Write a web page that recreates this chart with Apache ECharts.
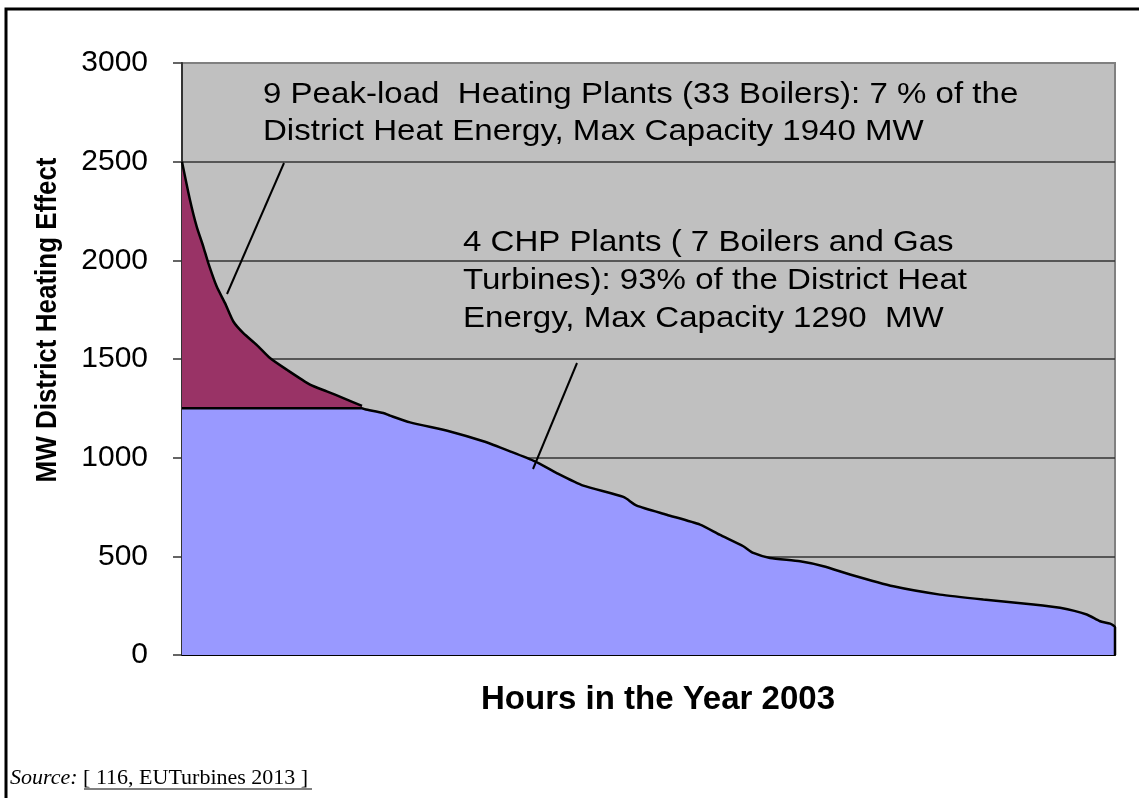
<!DOCTYPE html>
<html><head><meta charset="utf-8">
<script src="https://cdn.jsdelivr.net/npm/echarts@6/dist/echarts.min.js"></script>
<style>html,body{margin:0;padding:0;background:#fff}#c{width:1139px;height:798px}</style>
</head><body><div id="c"></div><script>
// Hours of the year (load duration curve, sorted) and district heat demand in MW
const hours = [0, 75, 138, 200, 247, 326, 404, 482, 576, 701, 826, 983, 1202, 1359, 1515, 1690, 1718, 1890, 1953, 2141, 2516, 2829, 3080, 3315, 3518, 3768, 4144, 4269, 4551, 4864, 5047, 5270, 5364, 5521, 5803, 6022, 6272, 6679, 7117, 7524, 7994, 8244, 8495, 8620, 8714, 8760, 8760];
const loadMW = [2500, 2306, 2171, 2070, 1986, 1867, 1783, 1690, 1631, 1572, 1505, 1446, 1370, 1336, 1302, 1262, 1245, 1226, 1213, 1179, 1133, 1083, 1032, 981, 922, 858, 801, 757, 711, 661, 610, 551, 517, 492, 475, 450, 408, 348, 306, 281, 256, 239, 205, 171, 159, 140, 0];
// Output covered by the 4 CHP plants (capped at ~1250 MW)
const chpMW = [1250, 1250, 1250, 1250, 1250, 1250, 1250, 1250, 1250, 1250, 1250, 1250, 1250, 1250, 1250, 1250, 1245, 1226, 1213, 1179, 1133, 1083, 1032, 981, 922, 858, 801, 757, 711, 661, 610, 551, 517, 492, 475, 450, 408, 348, 306, 281, 256, 239, 205, 171, 159, 140, 0];
const peakCount = 16; // points where peak-load plants run
const yTicks = [0, 500, 1000, 1500, 2000, 2500, 3000];

const FONT = '"Liberation Sans", Arial, sans-serif';
const SERIF = '"Liberation Serif", "Times New Roman", serif';
const peakData = hours.slice(0, peakCount).map((h, i) => [h, loadMW[i]]);
const chpData = hours.map((h, i) => [h, chpMW[i]]);

const annStyle = (t) => ({text: t, font: '29px ' + FONT, fill: '#000', align: 'left', verticalAlign: 'middle'});
const SX = 1.14;

const chart = echarts.init(document.getElementById('c'), null, {renderer: 'canvas'});
chart.setOption({
  animation: false,
  backgroundColor: '#ffffff',
  grid: {left: 182, top: 63, right: 24, bottom: 143, show: true, backgroundColor: '#C0C0C0', borderColor: '#808080', borderWidth: 2},
  xAxis: {
    type: 'value', min: 0, max: 8760,
    axisLine: {show: true, onZero: false, lineStyle: {color: '#000', width: 2}},
    axisTick: {show: false}, axisLabel: {show: false}, splitLine: {show: false}
  },
  yAxis: {
    type: 'value', min: yTicks[0], max: yTicks[yTicks.length - 1], interval: 500,
    axisLine: {show: true, lineStyle: {color: '#333', width: 2}},
    axisTick: {show: true, length: 9, lineStyle: {color: '#333', width: 1.5}},
    axisLabel: {fontSize: 30, fontFamily: FONT, color: '#000', margin: 34, formatter: (v) => String(v)},
    splitLine: {show: true, lineStyle: {color: ['#333', '#333', '#333', '#333', '#333', '#333', '#808080'], width: 1.5}}
  },
  series: [
    {
      name: 'Peak-load Heating Plants', type: 'line', data: peakData, symbol: 'none', smooth: 0.2,
      lineStyle: {color: '#000', width: 2.5}, areaStyle: {color: '#993366', opacity: 1}, z: 2
    },
    {
      name: 'CHP Plants', type: 'line', data: chpData, symbol: 'none', smooth: 0.2,
      lineStyle: {color: '#000', width: 2.5}, areaStyle: {color: '#9999FF', opacity: 1}, z: 3
    }
  ],
  graphic: [
    {type: 'polyline', shape: {points: [[6, 798], [6, 9], [1139, 9]]}, style: {stroke: '#000', lineWidth: 3, fill: null}},
    {type: 'line', shape: {x1: 284, y1: 163, x2: 227, y2: 294}, style: {stroke: '#000', lineWidth: 2}, z: 100},
    {type: 'line', shape: {x1: 577, y1: 363, x2: 533, y2: 469}, style: {stroke: '#000', lineWidth: 2}, z: 100},
    {type: 'text', x: 263, y: 95, scaleX: SX, z: 100, style: annStyle('9 Peak-load  Heating Plants (33 Boilers): 7 % of the')},
    {type: 'text', x: 263, y: 132, scaleX: SX, z: 100, style: annStyle('District Heat Energy, Max Capacity 1940 MW')},
    {type: 'text', x: 463, y: 243, scaleX: SX, z: 100, style: annStyle('4 CHP Plants ( 7 Boilers and Gas')},
    {type: 'text', x: 463, y: 281, scaleX: SX, z: 100, style: annStyle('Turbines): 93% of the District Heat')},
    {type: 'text', x: 463, y: 319, scaleX: SX, z: 100, style: annStyle('Energy, Max Capacity 1290  MW')},
    {type: 'text', x: 48, y: 320, rotation: Math.PI / 2, scaleY: 1.12, z: 100, style: {text: 'MW District Heating Effect', font: 'bold 26px ' + FONT, fill: '#000', align: 'center', verticalAlign: 'middle'}},
    {type: 'text', x: 658, y: 700, z: 100, style: {text: 'Hours in the Year 2003', font: 'bold 33px ' + FONT, fill: '#000', align: 'center', verticalAlign: 'middle'}},
    {type: 'text', x: 10, y: 778, z: 100, style: {text: '{i|Source:} {u|[ 116, EUTurbines 2013 ]}', font: '22px ' + SERIF, fill: '#000', align: 'left', verticalAlign: 'middle',
      rich: {i: {fontStyle: 'italic', fontFamily: SERIF, fontSize: 22}, u: {fontFamily: SERIF, fontSize: 22}}}},
    {type: 'line', shape: {x1: 84, y1: 789, x2: 312, y2: 789}, style: {stroke: '#000', lineWidth: 1.2}}
  ]
});
</script></body></html>
